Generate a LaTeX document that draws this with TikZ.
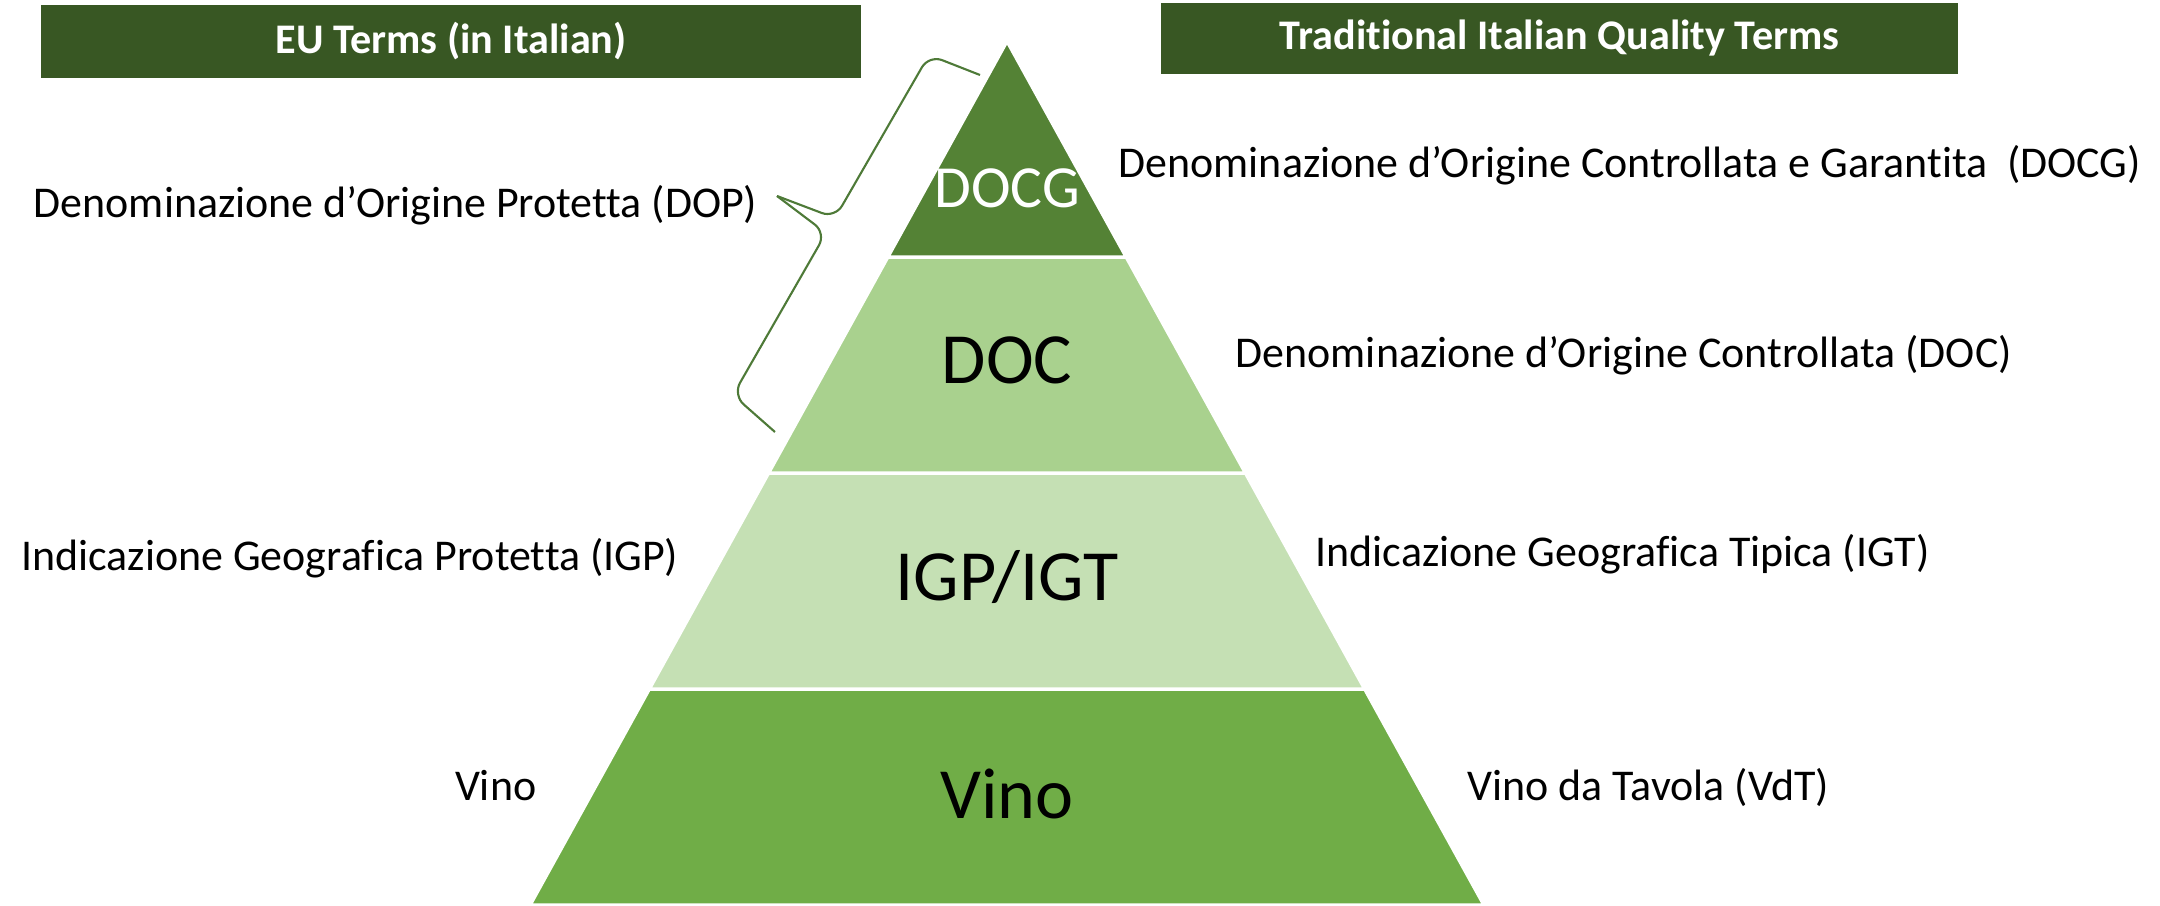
\documentclass[tikz,border=0pt]{standalone}
\usepackage{fontspec}
\setmainfont{Carlito}[Ligatures={TeX,NoCommon}]
\definecolor{hdrgreen}{HTML}{385723}
\definecolor{docggreen}{HTML}{548235}
\definecolor{docgreen}{HTML}{A9D18E}
\definecolor{igpgreen}{HTML}{C5E0B4}
\definecolor{vinogreen}{HTML}{70AD47}
\definecolor{bracegreen}{HTML}{4E7A38}

\begin{document}
\begin{tikzpicture}[
    header/.style={fill=hdrgreen, text=white, font=\fontsize{12}{14}\selectfont\bfseries, inner sep=0pt},
    level/.style={fill=#1, draw=white, line width=1pt},
    tier/.style={font=\fontsize{20.5}{24}\selectfont, anchor=base, inner sep=0pt},
    term/.style={font=\fontsize{12.5}{15}\selectfont, inner sep=0pt},
    bracepart/.style={bracegreen, line width=0.6pt, rounded corners=4pt}]
                \useasboundingbox (0,0) rectangle (21.6,9.05);
                \filldraw[level=vinogreen] (5.30,0) -- (14.84,0) -- (13.6475,2.16) -- (6.4925,2.16) -- cycle;
                \filldraw[level=igpgreen] (6.4925,2.16) -- (13.6475,2.16) -- (12.455,4.32) -- (7.685,4.32) -- cycle;
                \filldraw[level=docgreen] (7.685,4.32) -- (12.455,4.32) -- (11.2625,6.48) -- (8.8775,6.48) -- cycle;
                \filldraw[level=docggreen] (8.8775,6.48) -- (11.2625,6.48) -- (10.07,8.64) -- cycle;
                \node[header, minimum width=8.2cm, minimum height=0.73cm] (euhead) at (4.51,8.635) {EU Terms (in Italian)};
                \node[header, minimum width=7.97cm, minimum height=0.71cm] (ithead) at (15.595,8.665) {Traditional Italian Quality Terms};
                \node[tier, text=white, font=\fontsize{17}{20}\selectfont] (docg) at (10.07,6.98) {DOCG};
                \node[tier] (doc) at (10.07,5.22) {DOC};
                \node[tier] (igp) at (10.07,3.05) {IGP/IGT};
                \node[tier] (vino) at (10.07,0.87) {Vino};
                \node[term, anchor=base east] (dop) at (7.58,6.88) {Denominazione d’Origine Protetta (DOP)};
                \node[term, anchor=base west] (docgterm) at (11.18,7.28) {Denominazione d’Origine Controllata e Garantita~ (DOCG)};
                \node[term, anchor=base west] (docterm) at (12.35,5.38) {Denominazione d’Origine Controllata (DOC)};
                \node[term, anchor=base east] (igpterm) at (6.79,3.35) {Indicazione Geografica Protetta (IGP)};
                \node[term, anchor=base west] (igtterm) at (13.15,3.39) {Indicazione Geografica Tipica (IGT)};
                \node[term, anchor=base east] (vinoterm) at (5.37,1.05) {Vino};
                \node[term, anchor=base west] (vdtterm) at (14.67,1.05) {Vino da Tavola (VdT)};
                \coordinate (bracetop) at (9.80,8.30);
                \coordinate (bracecornera) at (9.29,8.50);
                \coordinate (braceupper) at (8.35,6.87);
                \coordinate (bracetip) at (7.77,7.09);
                \coordinate (bracelower) at (8.26,6.72);
                \coordinate (bracecornerb) at (7.33,5.10);
                \coordinate (bracebot) at (7.75,4.73);
                \draw[bracepart] (bracetop) -- (bracecornera) -- (braceupper) -- (bracetip);
                \draw[bracepart] (bracetip) -- (bracelower) -- (bracecornerb) -- (bracebot);
            \end{tikzpicture}
\end{document}
